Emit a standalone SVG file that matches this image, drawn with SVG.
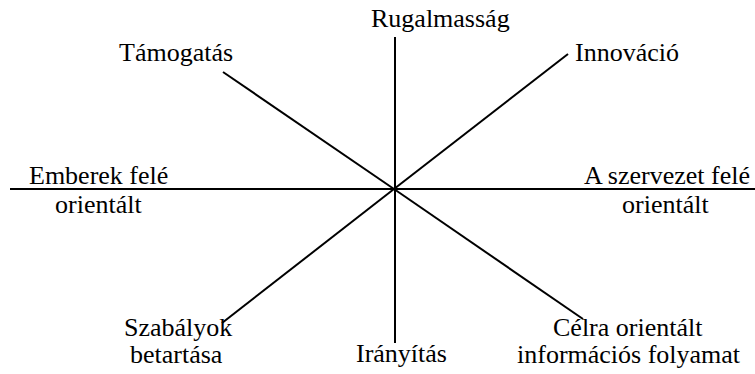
<svg xmlns="http://www.w3.org/2000/svg" width="755" height="374" viewBox="0 0 755 374">
<rect width="755" height="374" fill="#fff"/>
<g id="connectors" stroke="#000" stroke-width="2" fill="none">
<line x1="395" y1="37" x2="395" y2="343"/>
<line x1="10" y1="189" x2="755" y2="189"/>
<line x1="223" y1="72" x2="394" y2="189"/>
<line x1="568" y1="54" x2="394" y2="189"/>
<line x1="394" y1="189" x2="583" y2="319"/>
<line x1="394" y1="189" x2="222" y2="323"/>
</g>
<g id="rugalmassag"><text x="371" y="27" font-family="Times New Roman" font-size="26"><tspan font-family="Times New Roman">Rugalmasság</tspan></text></g>
<g id="tamogatas"><text x="119" y="61" font-family="Times New Roman" font-size="26"><tspan font-family="Times New Roman">Támogatás</tspan></text></g>
<g id="innovacio"><text x="575" y="61" font-family="Times New Roman" font-size="26"><tspan font-family="Times New Roman">Innováció</tspan></text></g>
<g id="emberek"><text x="29" y="184" font-family="Times New Roman" font-size="26"><tspan font-family="Times New Roman">Emberek felé</tspan></text><text x="55" y="213" font-family="Times New Roman" font-size="26"><tspan font-family="Times New Roman">orientált</tspan></text></g>
<g id="szervezet"><text x="584" y="184" font-family="Times New Roman" font-size="26"><tspan font-family="Times New Roman">A szervezet felé</tspan></text><text x="622" y="213" font-family="Times New Roman" font-size="26"><tspan font-family="Times New Roman">orientált</tspan></text></g>
<g id="szabalyok"><text x="124" y="336" font-family="Times New Roman" font-size="26"><tspan font-family="Times New Roman">Szabályok</tspan></text><text x="130" y="363" font-family="Times New Roman" font-size="26"><tspan font-family="Times New Roman">betartása</tspan></text></g>
<g id="iranyitas"><text x="356" y="362" font-family="Times New Roman" font-size="26"><tspan font-family="Times New Roman">Irányítás</tspan></text></g>
<g id="celra"><text x="553" y="336" font-family="Times New Roman" font-size="26"><tspan font-family="Times New Roman">Célra orientált</tspan></text><text x="517" y="363" font-family="Times New Roman" font-size="26"><tspan font-family="Times New Roman">információs folyamat</tspan></text></g>
</svg>
